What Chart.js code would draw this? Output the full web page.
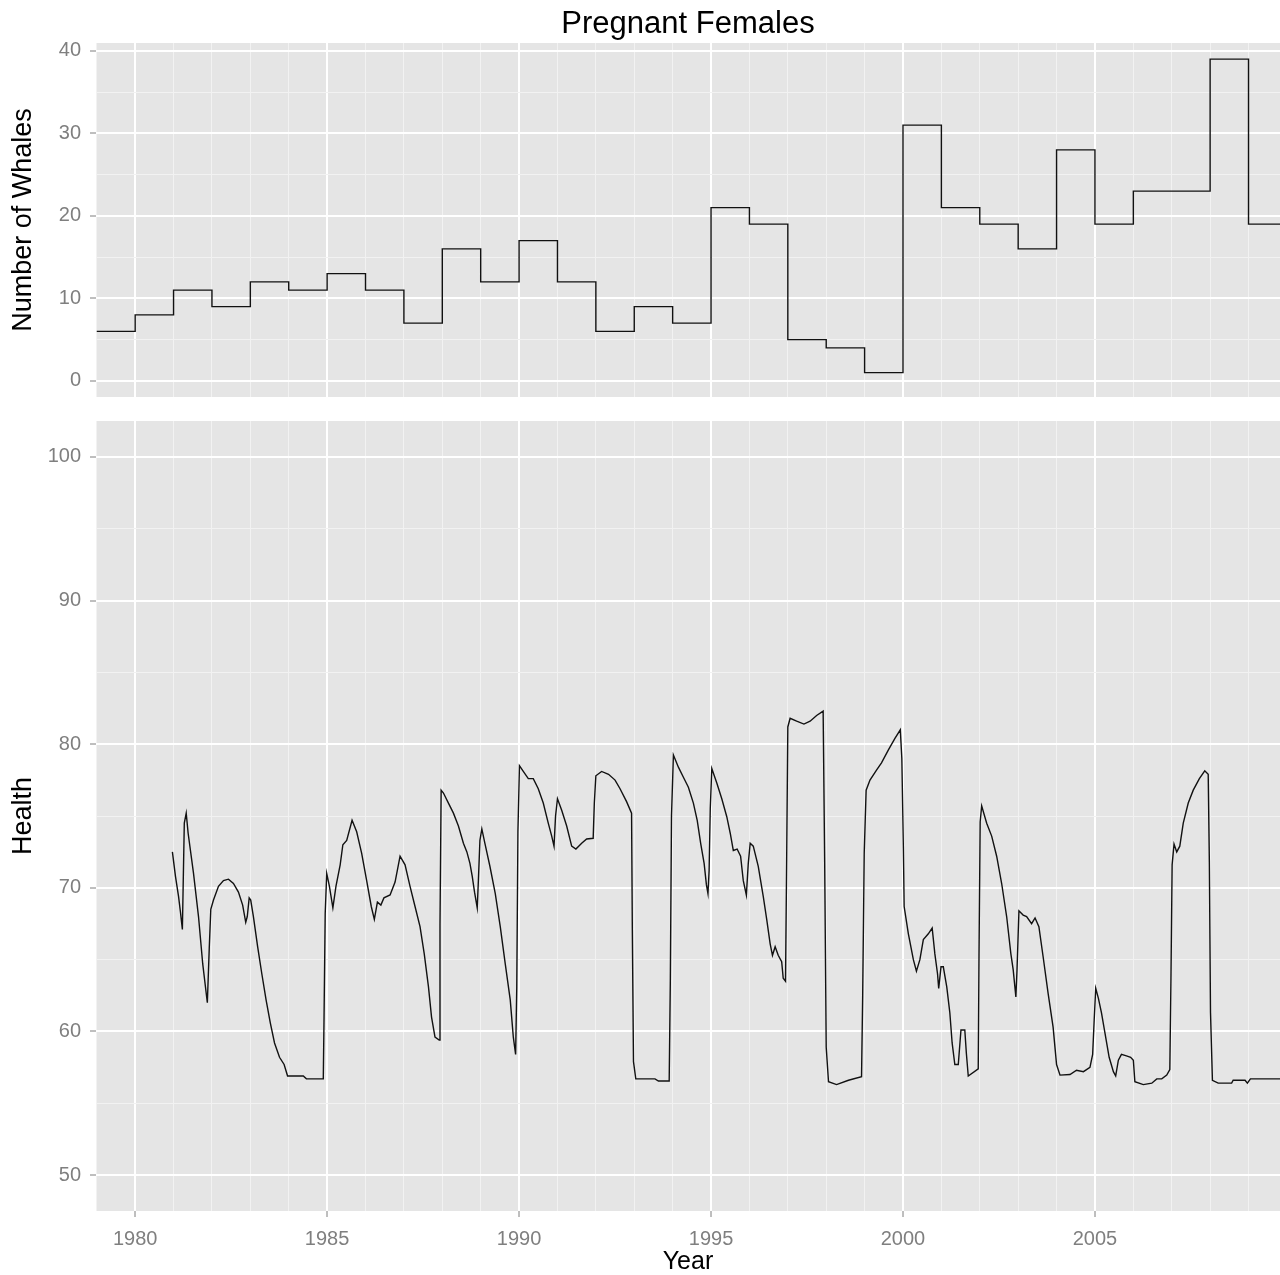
<!DOCTYPE html>
<html>
<head>
<meta charset="utf-8">
<title>Pregnant Females</title>
<script src="https://cdn.jsdelivr.net/npm/chart.js@4.4.1/dist/chart.umd.min.js"></script>
<style>
  html, body { margin: 0; padding: 0; background: #fff; }
  #wrap { position: relative; width: 1280px; height: 1275px; overflow: hidden; }
  .panel { position: absolute; left: 0; width: 1280px; }
</style>
</head>
<body>
<div id="wrap">
  <div class="panel" style="top:0;height:409px"><canvas id="whales" width="1280" height="409"></canvas></div>
  <div class="panel" style="top:400px;height:875px"><canvas id="health" width="1280" height="875"></canvas></div>
</div>
<script>
/* ---------- data ---------- */
const TITLE = 'Pregnant Females';

// yearly count of pregnant females (value holds for the whole year)
const whaleYears  = [1979, 1980, 1981, 1982, 1983, 1984, 1985, 1986, 1987, 1988, 1989,
                     1990, 1991, 1992, 1993, 1994, 1995, 1996, 1997, 1998, 1999,
                     2000, 2001, 2002, 2003, 2004, 2005, 2006, 2007, 2008, 2009];
const whaleCounts = [6, 8, 11, 9, 12, 11, 13, 11, 7, 16, 12,
                     17, 12, 6, 9, 7, 21, 19, 5, 4, 1,
                     31, 21, 19, 16, 28, 19, 23, 23, 39, 19];

// health index (decimal years)
const healthYears = [
  1980.97, 1981.05, 1981.13, 1981.18, 1981.23, 1981.25, 1981.28, 1981.33, 1981.38, 1981.52,
  1981.65, 1981.76, 1981.88, 1981.93, 1981.97, 1982.04, 1982.17, 1982.30, 1982.43, 1982.56,
  1982.69, 1982.80, 1982.88, 1982.92, 1982.97, 1983.01, 1983.08, 1983.19, 1983.30, 1983.41,
  1983.52, 1983.63, 1983.76, 1983.88, 1983.97, 1984.38, 1984.46, 1984.90, 1984.92, 1984.95,
  1984.99, 1985.06, 1985.15, 1985.23, 1985.34, 1985.41, 1985.51, 1985.65, 1985.77, 1985.90,
  1986.03, 1986.15, 1986.23, 1986.31, 1986.40, 1986.48, 1986.64, 1986.77, 1986.90, 1987.03,
  1987.16, 1987.29, 1987.42, 1987.53, 1987.64, 1987.72, 1987.81, 1987.92, 1987.94, 1987.97,
  1988.03, 1988.16, 1988.29, 1988.42, 1988.55, 1988.64, 1988.72, 1988.78, 1988.84, 1988.91,
  1988.94, 1988.98, 1989.03, 1989.11, 1989.24, 1989.38, 1989.51, 1989.64, 1989.77, 1989.85,
  1989.91, 1989.94, 1989.97, 1990.01, 1990.11, 1990.24, 1990.37, 1990.50, 1990.63, 1990.76,
  1990.85, 1990.91, 1990.95, 1991.00, 1991.11, 1991.24, 1991.37, 1991.48, 1991.63, 1991.76,
  1991.93, 1991.96, 1992.00, 1992.15, 1992.33, 1992.50, 1992.63, 1992.80, 1992.93, 1992.95,
  1992.98, 1993.04, 1993.54, 1993.63, 1993.91, 1993.94, 1993.97, 1994.02, 1994.15, 1994.28,
  1994.41, 1994.54, 1994.64, 1994.73, 1994.82, 1994.88, 1994.92, 1994.95, 1994.98, 1995.02,
  1995.15, 1995.28, 1995.41, 1995.50, 1995.58, 1995.68, 1995.77, 1995.84, 1995.92, 1995.97,
  1996.02, 1996.10, 1996.23, 1996.36, 1996.45, 1996.54, 1996.60, 1996.67, 1996.75, 1996.84,
  1996.88, 1996.94, 1996.97, 1997.00, 1997.06, 1997.23, 1997.42, 1997.58, 1997.75, 1997.92,
  1997.96, 1998.00, 1998.06, 1998.27, 1998.58, 1998.92, 1998.95, 1998.99, 1999.04, 1999.14,
  1999.31, 1999.44, 1999.62, 1999.79, 1999.93, 1999.97, 2000.01, 2000.03, 2000.14, 2000.27,
  2000.35, 2000.44, 2000.53, 2000.66, 2000.76, 2000.83, 2000.90, 2000.93, 2000.99, 2001.05,
  2001.14, 2001.22, 2001.28, 2001.35, 2001.44, 2001.51, 2001.61, 2001.65, 2001.70, 2001.96,
  2001.98, 2002.01, 2002.05, 2002.18, 2002.31, 2002.44, 2002.57, 2002.70, 2002.81, 2002.87,
  2002.94, 2002.97, 2003.02, 2003.13, 2003.22, 2003.35, 2003.44, 2003.54, 2003.65, 2003.78,
  2003.91, 2004.00, 2004.09, 2004.35, 2004.52, 2004.70, 2004.87, 2004.94, 2004.98, 2005.02,
  2005.09, 2005.17, 2005.26, 2005.37, 2005.48, 2005.54, 2005.61, 2005.69, 2005.82, 2005.93,
  2006.00, 2006.04, 2006.26, 2006.48, 2006.61, 2006.74, 2006.87, 2006.95, 2006.98, 2007.01,
  2007.06, 2007.13, 2007.21, 2007.30, 2007.43, 2007.56, 2007.72, 2007.86, 2007.95, 2007.98,
  2008.01, 2008.06, 2008.21, 2008.56, 2008.60, 2008.91, 2008.97, 2009.05, 2009.92
];
const healthValues = [
  72.5, 70.8, 69.4, 68.3, 67.1, 70.1, 74.5, 75.2, 73.8, 71.0,
  68.0, 64.7, 62.0, 65.8, 68.5, 69.15, 70.1, 70.5, 70.6, 70.3,
  69.7, 68.8, 67.6, 68.0, 69.3, 69.15, 68.0, 65.9, 64.0, 62.2,
  60.6, 59.2, 58.2, 57.7, 56.9, 56.9, 56.7, 56.7, 61.0, 68.2,
  71.0, 70.1, 68.6, 70.1, 71.6, 73.0, 73.3, 74.7, 73.9, 72.4,
  70.5, 68.7, 67.8, 69.0, 68.8, 69.3, 69.5, 70.4, 72.2, 71.6,
  70.1, 68.7, 67.3, 65.4, 63.1, 61.0, 59.6, 59.4, 67.4, 76.8,
  76.6, 75.9, 75.2, 74.3, 73.1, 72.5, 71.7, 70.8, 69.7, 68.6,
  70.5, 73.3, 74.1, 73.1, 71.5, 69.6, 67.3, 64.7, 62.2, 59.6,
  58.4, 63.1, 73.9, 78.5, 78.1, 77.6, 77.6, 76.9, 75.9, 74.5,
  73.6, 72.9, 75.0, 76.2, 75.4, 74.3, 72.9, 72.7, 73.1, 73.4,
  73.45, 75.9, 77.8, 78.1, 77.9, 77.5, 76.9, 76.0, 75.2, 67.1,
  57.9, 56.7, 56.7, 56.55, 56.55, 63.6, 75.0, 79.25, 78.4, 77.7,
  77.0, 75.9, 74.7, 73.1, 71.7, 70.2, 69.6, 71.2, 75.5, 78.3,
  77.3, 76.2, 74.95, 73.8, 72.6, 72.7, 72.2, 70.5, 69.5, 71.7,
  73.1, 72.9, 71.5, 69.4, 67.8, 66.1, 65.3, 65.9, 65.3, 64.85,
  63.7, 63.5, 72.0, 81.2, 81.8, 81.6, 81.4, 81.6, 82.0, 82.3,
  71.8, 58.9, 56.5, 56.3, 56.6, 56.85, 62.5, 72.4, 76.8, 77.5,
  78.2, 78.7, 79.6, 80.4, 81.0, 79.0, 72.75, 68.7, 66.8, 65.0,
  64.2, 65.0, 66.4, 66.8, 67.2, 65.4, 64.0, 63.0, 64.5, 64.5,
  63.1, 61.3, 59.2, 57.7, 57.7, 60.1, 60.1, 58.5, 56.9, 57.4,
  65.3, 74.6, 75.7, 74.5, 73.6, 72.2, 70.3, 68.0, 65.4, 64.3,
  62.4, 64.3, 68.4, 68.1, 68.0, 67.5, 67.9, 67.3, 65.2, 62.65,
  60.3, 57.7, 56.96, 57.0, 57.3, 57.2, 57.5, 58.4, 60.8, 63.0,
  62.3, 61.3, 59.9, 58.2, 57.2, 56.9, 58.0, 58.4, 58.3, 58.2,
  58.0, 56.5, 56.3, 56.4, 56.7, 56.7, 56.96, 57.35, 63.7, 71.6,
  73.05, 72.5, 72.9, 74.5, 75.9, 76.8, 77.6, 78.15, 77.9, 71.8,
  61.3, 56.6, 56.4, 56.4, 56.6, 56.6, 56.4, 56.7, 56.7
];

// axis breaks: every year minor, every 5 years labelled
const yearTicks   = [1979, 1980, 1981, 1982, 1983, 1984, 1985, 1986, 1987, 1988, 1989,
                     1990, 1991, 1992, 1993, 1994, 1995, 1996, 1997, 1998, 1999,
                     2000, 2001, 2002, 2003, 2004, 2005, 2006, 2007, 2008, 2009];
const whaleTicks  = [0, 5, 10, 15, 20, 25, 30, 35, 40];
const healthTicks = [50, 55, 60, 65, 70, 75, 80, 85, 90, 95, 100];

const X_MIN = 1978.98, X_MAX = 2009.82;

/* ---------- look ---------- */
const FONT = '"Liberation Sans", Arial, Helvetica, sans-serif';
const GREY50 = '#7f7f7f';
const PANEL = '#e5e5e5';
const MINOR = '#f2f2f2';

// grey panel behind the grid
const panelBg = {
  id: 'panelBg',
  beforeDraw(chart) {
    const { ctx, chartArea: a } = chart;
    ctx.save();
    ctx.fillStyle = PANEL;
    ctx.fillRect(a.left, a.top, a.right - a.left, a.bottom - a.top);
    ctx.restore();
  }
};

// main title centred on the panel, not on the canvas
const panelTitle = {
  id: 'panelTitle',
  afterDraw(chart, args, opts) {
    if (!opts.text) return;
    const { ctx, chartArea: a } = chart;
    ctx.save();
    ctx.font = `${opts.size}px ${FONT}`;
    ctx.fillStyle = '#000';
    ctx.textAlign = 'center';
    ctx.textBaseline = 'middle';
    ctx.fillText(opts.text, (a.left + a.right) / 2, opts.y);
    ctx.restore();
  }
};

function isMajor(v, step) { return Math.abs(v % step) < 1e-9; }

// shared grid options: white major lines, faint minor lines
function gridFor(step, ticksOn) {
  return {
    color: c => (c.tick && isMajor(c.tick.value, step)) ? '#ffffff' : MINOR,
    lineWidth: c => (c.tick && isMajor(c.tick.value, step)) ? 2 : 1,
    drawTicks: ticksOn,
    tickLength: 6,
    tickWidth: 1,
    tickColor: c => (c.tick && isMajor(c.tick.value, step)) ? GREY50 : 'rgba(0,0,0,0)'
  };
}

function noPadding(s) { s.paddingTop = 0; s.paddingBottom = 0; s.paddingLeft = 0; s.paddingRight = 0; }

function xScale(showLabels) {
  return {
    type: 'linear', min: X_MIN, max: X_MAX,
    afterBuildTicks: s => { s.ticks = yearTicks.map(v => ({ value: v })); },
    afterFit: s => { s.height = showLabels ? 64 : 12; noPadding(s); },
    border: { display: false },
    grid: gridFor(5, showLabels),
    ticks: {
      display: showLabels, autoSkip: false, maxRotation: 0, minRotation: 0,
      color: GREY50, font: { family: FONT, size: 20 }, padding: 10,
      callback: v => isMajor(v, 5) ? String(v) : ''
    },
    title: {
      display: showLabels, text: 'Year', color: '#000',
      font: { family: FONT, size: 25, lineHeight: 1 }, padding: { top: 0, bottom: 0 }
    }
  };
}

function yScale(min, max, ticks, title) {
  return {
    min, max,
    afterBuildTicks: s => { s.ticks = ticks.map(v => ({ value: v })); },
    afterFit: s => { s.width = 96; noPadding(s); },
    border: { display: false },
    grid: gridFor(10, true),
    ticks: {
      autoSkip: false, color: GREY50, font: { family: FONT, size: 20 }, padding: 9,
      callback: v => isMajor(v, 10) ? String(v) : ''
    },
    title: {
      display: true, text: title, color: '#000',
      font: { family: FONT, size: 27, lineHeight: 1.2 }, padding: { top: 7, bottom: 0 }
    }
  };
}

function baseOptions(padTop, padBottom) {
  return {
    responsive: false,
    animation: false,
    devicePixelRatio: 1,
    layout: { padding: { top: padTop, bottom: padBottom, left: 0, right: 0 } },
    plugins: { legend: { display: false }, tooltip: { enabled: false }, title: { display: false } },
    elements: { point: { radius: 0 }, line: { tension: 0 } }
  };
}

/* ---------- top panel: number of whales ---------- */
const whalePoints = whaleYears.map((x, i) => ({ x, y: whaleCounts[i] }));
// last year's count is held until the end of that year
whalePoints.push({ x: whaleYears[whaleYears.length - 1] + 1, y: whaleCounts[whaleCounts.length - 1] });

const topOpts = baseOptions(43, 0);
topOpts.scales = {
  x: xScale(false),
  y: yScale(-1.95, 40.95, whaleTicks, 'Number of Whales')
};
topOpts.plugins.panelTitle = { text: TITLE, size: 31, y: 24 };

new Chart(document.getElementById('whales'), {
  type: 'line',
  data: {
    datasets: [{
      data: whalePoints,
      stepped: 'before',   // hold each year's count, jump at the next year
      borderColor: '#111',
      borderWidth: 1.4,
      fill: false
    }]
  },
  options: topOpts,
  plugins: [panelBg, panelTitle]
});

/* ---------- bottom panel: health ---------- */
const healthPoints = healthYears.map((x, i) => ({ x, y: healthValues[i] }));

const botOpts = baseOptions(21, 0);
botOpts.scales = {
  x: xScale(true),
  y: yScale(47.5, 102.5, healthTicks, 'Health')
};
botOpts.plugins.panelTitle = { text: '' };

new Chart(document.getElementById('health'), {
  type: 'line',
  data: {
    datasets: [{
      data: healthPoints,
      borderColor: '#111',
      borderWidth: 1.4,
      fill: false
    }]
  },
  options: botOpts,
  plugins: [panelBg, panelTitle]
});
</script>
</body>
</html>
